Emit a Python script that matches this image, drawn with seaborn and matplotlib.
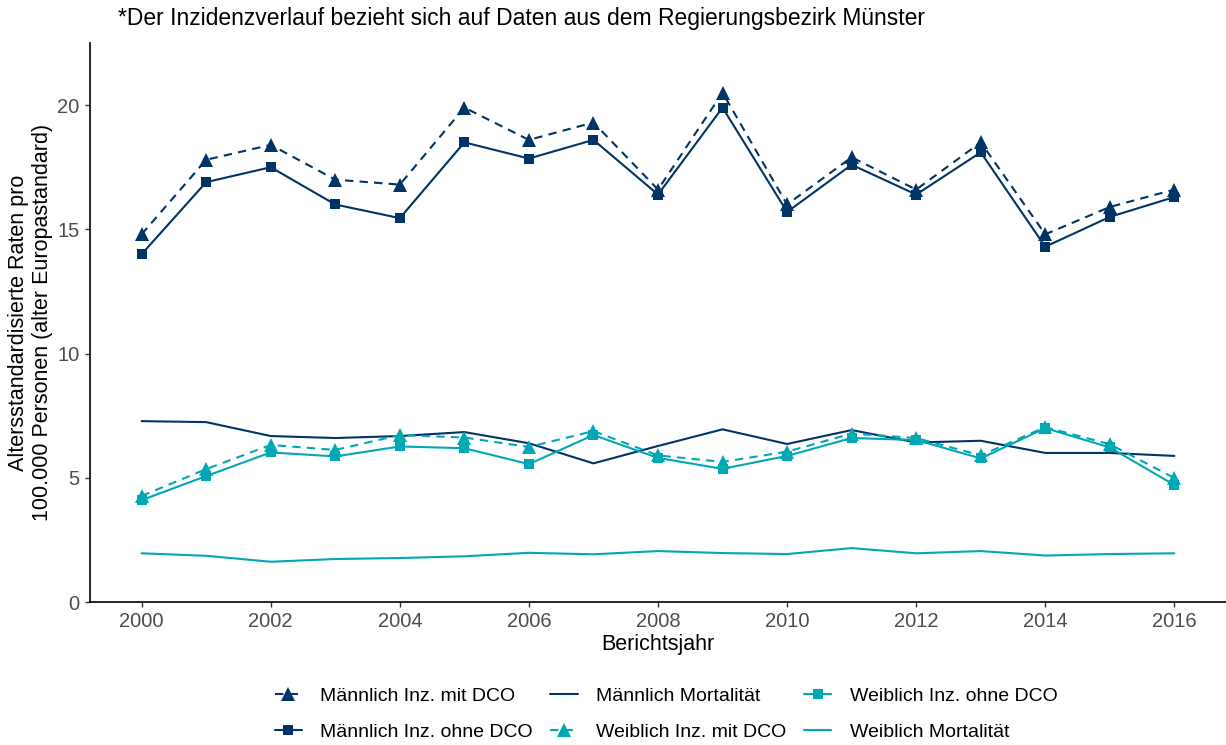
import matplotlib
matplotlib.use("Agg")
import matplotlib.pyplot as plt
import seaborn as sns
import pandas as pd

years = list(range(2000, 2017))

m_inz_mit = [14.8, 17.8, 18.4, 17.0, 16.8, 19.9, 18.6, 19.3, 16.6, 20.5, 16.0, 17.9, 16.6, 18.5, 14.8, 15.9, 16.6]
m_inz_ohne = [14.0, 16.9, 17.5, 16.0, 15.45, 18.5, 17.85, 18.6, 16.4, 19.9, 15.7, 17.6, 16.4, 18.1, 14.3, 15.5, 16.3]
m_mort = [7.28, 7.24, 6.68, 6.6, 6.68, 6.84, 6.39, 5.58, 6.28, 6.95, 6.36, 6.92, 6.42, 6.49, 6.0, 6.0, 5.88]
w_inz_mit = [4.27, 5.35, 6.32, 6.12, 6.72, 6.62, 6.24, 6.88, 5.9, 5.64, 6.05, 6.78, 6.6, 5.9, 7.04, 6.35, 4.99]
w_inz_ohne = [4.1, 5.07, 6.02, 5.86, 6.26, 6.19, 5.55, 6.72, 5.8, 5.36, 5.88, 6.6, 6.52, 5.78, 7.0, 6.22, 4.71]
w_mort = [1.96, 1.86, 1.62, 1.73, 1.77, 1.84, 1.98, 1.92, 2.05, 1.97, 1.93, 2.17, 1.96, 2.05, 1.87, 1.93, 1.96]

labels = ["Männlich Inz. mit DCO", "Männlich Inz. ohne DCO", "Männlich Mortalität",
          "Weiblich Inz. mit DCO", "Weiblich Inz. ohne DCO", "Weiblich Mortalität"]
x_ticks = list(range(2000, 2017, 2))
y_ticks = [0, 5, 10, 15, 20]

title = "*Der Inzidenzverlauf bezieht sich auf Daten aus dem Regierungsbezirk Münster"
xlabel = "Berichtsjahr"
ylabel = "Altersstandardisierte Raten pro\n100.000 Personen (alter Europastandard)"

NAVY = "#003366"
TEAL = "#00A8B4"

sns.set_theme(style="white")
plt.rcParams["font.family"] = ["Liberation Sans", "DejaVu Sans"]

fig = plt.figure(figsize=(12.26, 7.45), dpi=100)
ax = fig.add_axes([90 / 1226, 1 - 602 / 745, 1 - 90 / 1226, (602 - 43) / 745])

styles = [
    (NAVY, (4, 3), "^", 9.5),
    (NAVY, "", "s", 7.5),
    (NAVY, "", None, 0),
    (TEAL, (4, 3), "^", 9.5),
    (TEAL, "", "s", 7.5),
    (TEAL, "", None, 0),
]

handles = []
for vals, lab, (col, dash, mk, ms) in zip(
        [m_inz_mit, m_inz_ohne, m_mort, w_inz_mit, w_inz_ohne, w_mort], labels, styles):
    df = pd.DataFrame({"Jahr": years, "Wert": vals})
    kw = dict(color=col, linewidth=1.5, ax=ax, legend=False)
    if mk:
        kw.update(marker=mk, markersize=ms, markeredgewidth=0, markerfacecolor=col)
    sns.lineplot(data=df, x="Jahr", y="Wert", **kw)
    line = ax.lines[-1]
    if dash:
        line.set_dashes(dash)
    line.set_label(lab)
    handles.append(line)

ax.set_xlim(1999.2, 2016.8)
ax.set_ylim(0, 22.5)
ax.set_xticks(x_ticks)
ax.set_yticks(y_ticks)
ax.tick_params(axis="both", which="major", length=3.5, width=1, color="#333333",
               labelsize=14.5, labelcolor="#4D4D4D", left=True, bottom=True, pad=4)
for s in ["top", "right"]:
    ax.spines[s].set_visible(False)
for s in ["left", "bottom"]:
    ax.spines[s].set_color("black")
    ax.spines[s].set_linewidth(1.2)

ax.set_xlabel(xlabel, fontsize=15.5, color="black", labelpad=2)
ax.set_ylabel(ylabel, fontsize=15.5, color="black", labelpad=3)
fig.text(118 / 1226, 1 - 18 / 745, title, fontsize=16.5, color="black", va="center", ha="left")

fig.legend(handles=handles, labels=labels, loc="center", ncol=3,
           bbox_to_anchor=(666 / 1226, 1 - 714 / 745), frameon=False, fontsize=14,
           handlelength=1.4, columnspacing=0.9, labelspacing=0.95, handletextpad=0.95,
           labelcolor="black")

fig.savefig("out.png", dpi=100, facecolor="white")
